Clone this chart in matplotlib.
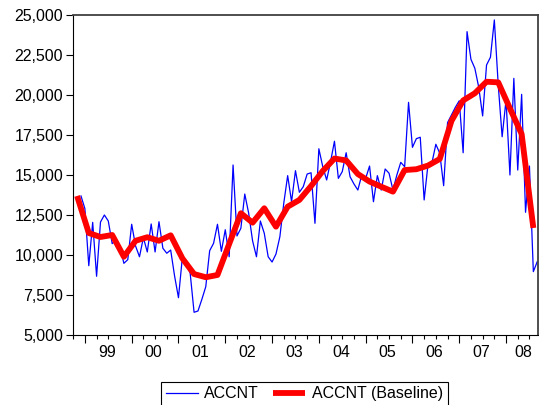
import matplotlib.pyplot as plt
import numpy as np
from matplotlib.ticker import FuncFormatter, MultipleLocator
from matplotlib.transforms import blended_transform_factory

plt.rcParams['font.family'] = ['Liberation Sans', 'DejaVu Sans']

# ACCNT, monthly, 1998M12 - 2008M09
accnt = [13690, 12900, 9330, 12040, 8670, 12060, 12500, 12125, 10710, 10920,
         10520, 9480, 9710, 11920, 10560, 9890, 11080, 10190, 11940, 10190,
         12080, 10420, 10110, 10310, 8690, 7330, 9860, 9480, 8860, 6420,
         6500, 7230, 8020, 10270, 10730, 11920, 10230, 11580, 9890, 15625,
         11190, 11670, 13810, 12610, 10890, 9890, 12125, 11360, 9890, 9560,
         10060, 11140, 13230, 14960, 13330, 15270, 13920, 14270, 15060, 15140,
         11980, 16640, 15520, 14690, 15830, 17110, 14790, 15210, 16390, 14890,
         14440, 14060, 15000, 14790, 15560, 13330, 14960, 14060, 15375, 15110,
         14060, 15000, 15790, 15520, 19540, 16730, 17270, 17360, 13440, 15690,
         15770, 16920, 16360, 14330, 18270, 18750, 19230, 19640, 16390, 23960,
         22230, 21670, 20480, 18690, 21875, 22360, 24690, 20625, 17390, 19690,
         15000, 21040, 15310, 20040, 12670, 15560, 8960, 9580]

# ACCNT baseline, quarterly, 1998Q4 - 2008Q3
baseline = [13690, 11375, 11125, 11250, 9890, 10890, 11110, 10890, 11230, 9790,
            8810, 8610, 8750, 10690, 12610, 12020, 12920, 11770, 13020, 13440,
            14310, 15250, 16030, 15910, 15060, 14590, 14270, 13960, 15310, 15360,
            15590, 16000, 18375, 19660, 20110, 20830, 20790, 19160, 17560, 11690]

years = [1999, 2000, 2001, 2002, 2003, 2004, 2005, 2006, 2007, 2008]
year_labels = ['99', '00', '01', '02', '03', '04', '05', '06', '07', '08']

# monthly obs start in Dec 1998, quarterly obs sit on the middle month
t_month = 1998 + 11 / 12 + np.arange(len(accnt)) / 12
t_quarter = 1998 + 10 / 12 + np.arange(len(baseline)) * 3 / 12

fig = plt.figure(figsize=(5.39, 4.05), dpi=100, facecolor='white')
ax = fig.add_axes([73 / 539, 1 - 335 / 405, 465 / 539, 320 / 405])

l1, = ax.plot(t_month, accnt, color='#0000FF', linewidth=0.9)
l2, = ax.plot(t_quarter, baseline, color='#FF0000', linewidth=4.2,
              solid_joinstyle='round', solid_capstyle='butt')

ax.set_xlim(1998.746, 2008.683)
ax.set_ylim(5000, 25000)
ax.yaxis.set_major_locator(MultipleLocator(2500))
ax.yaxis.set_major_formatter(FuncFormatter(lambda v, p: f'{int(v):,}'))
ax.xaxis.set_major_locator(MultipleLocator(1))
ax.xaxis.set_minor_locator(MultipleLocator(0.25))

ax.tick_params(axis='y', direction='out', length=4.8, width=0.8, pad=2.4,
               labelsize=11.5, colors='black')
ax.tick_params(axis='x', which='major', direction='out', length=5.8, width=0.8,
               labelbottom=False)
ax.tick_params(axis='x', which='minor', direction='out', length=3.2, width=0.8)

for side in ['left', 'bottom']:
    ax.spines[side].set_color('black')
    ax.spines[side].set_linewidth(0.8)
for side in ['top', 'right']:
    ax.spines[side].set_color('#404040')
    ax.spines[side].set_linewidth(1.3)

# year labels sit in the middle of each year
trans = blended_transform_factory(ax.transData, ax.transAxes)
for yr, lab in zip(years, year_labels):
    xpos = yr + 0.47 if yr < 2008 else 2008.36
    ax.text(xpos, -0.0697, lab, transform=trans, ha='center', va='baseline',
            fontsize=11.5)

leg = fig.legend([l1, l2], ['ACCNT', 'ACCNT (Baseline)'], loc='upper center',
                 bbox_to_anchor=(304.3 / 539, 1 - 381.7 / 405), ncol=2,
                 fontsize=11.5, frameon=True, fancybox=False, shadow=False,
                 edgecolor='black', framealpha=1, handlelength=2.0,
                 handletextpad=0.4, columnspacing=0.9, borderpad=0.3,
                 borderaxespad=0)
leg.get_frame().set_linewidth(0.8)

fig.savefig('out.png', dpi=100, facecolor='white')
